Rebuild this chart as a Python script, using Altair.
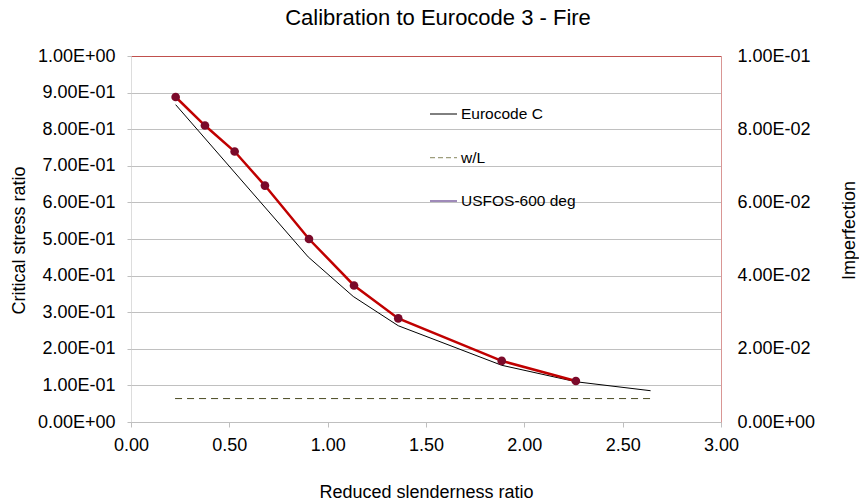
import altair as alt
import pandas as pd

# ---- data ----
usfos_x = [0.227, 0.376, 0.527, 0.681, 0.905, 1.134, 1.359, 1.885, 2.262]
usfos_y = [0.888, 0.810, 0.739, 0.646, 0.500, 0.373, 0.283, 0.167, 0.112]

euro_x = [0.227, 0.901, 1.130, 1.359, 1.885, 2.262, 2.642]
euro_y = [0.867, 0.451, 0.343, 0.263, 0.155, 0.110, 0.0855]

wl_x = [0.224, 2.642]
wl_y = [0.0064, 0.0064]

legend_labels = ["Eurocode C", "w/L", "USFOS-600 deg"]
legend_colors = ["#000000", "#9E9E7E", "#8064A2"]

x_ticks = [0, 0.5, 1.0, 1.5, 2.0, 2.5, 3.0]
left_ticks = [0, 0.1, 0.2, 0.3, 0.4, 0.5, 0.6, 0.7, 0.8, 0.9, 1.0]
right_ticks = [0, 0.02, 0.04, 0.06, 0.08, 0.1]

FONT = "Liberation Sans"
BORDER = "#C0504D"

usfos_df = pd.DataFrame({"x": usfos_x, "y": usfos_y})
euro_df = pd.DataFrame({"x": euro_x, "y": euro_y})
wl_df = pd.DataFrame({"x": wl_x, "y": wl_y})
legend_df = pd.DataFrame({"series": legend_labels})

exp_ = "floor(log(datum.value)/LN10 + 1e-9)"
excel_fmt = (
    "datum.value == 0 ? '0.00E+00' : "
    f"(format(datum.value / pow(10, {exp_}), '.2f') + 'E' + "
    f"({exp_} < 0 ? '-' : '+') + "
    f"(abs({exp_}) < 10 ? '0' : '') + abs({exp_}))"
)

x_scale = alt.Scale(domain=[0, 3], nice=False, zero=False)
y_left_scale = alt.Scale(domain=[0, 1], nice=False)
y_right_scale = alt.Scale(domain=[0, 0.1], nice=False)

x_axis = alt.Axis(
    values=x_ticks, format=".2f", title="Reduced slenderness ratio",
    grid=False, domainColor="#BFBFBF", tickColor="#BFBFBF", tickSize=5,
    labelFlush=False, labelOverlap=False,
    labelPadding=9, labelFontSize=18, labelColor="#000000", labelFont=FONT,
    titleFontSize=18, titleFontWeight="normal", titleFont=FONT, titleColor="#000000",
    titleX=295, titleY=75, titleBaseline="alphabetic", titleAnchor="start", titleAlign="center",
)
y_left_axis = alt.Axis(
    values=left_ticks, labelExpr=excel_fmt, title="Critical stress ratio",
    grid=True,
    gridColor={"condition": {"test": "datum.value > 0.99", "value": BORDER}, "value": "#C0C0C0"},
    domain=False, tickColor="#BFBFBF", tickSize=4,
    labelFlush=False, labelOverlap=False,
    labelPadding=12, labelFontSize=18, labelColor="#000000", labelFont=FONT,
    titleFontSize=18, titleFontWeight="normal", titleFont=FONT, titleColor="#000000",
    titleAngle=270, titleX=-107, titleY=184, titleBaseline="alphabetic", titleAlign="center",
)
y_right_axis = alt.Axis(
    values=right_ticks, labelExpr=excel_fmt, title="Imperfection", orient="right",
    grid=False, domain=True, domainColor="#D99694", ticks=False,
    labelFlush=False, labelOverlap=False,
    labelPadding=16, labelFontSize=18, labelColor="#000000", labelFont=FONT,
    titleFontSize=18, titleFontWeight="normal", titleFont=FONT, titleColor="#000000",
    titleAngle=270, titleX=133, titleY=174, titleBaseline="alphabetic", titleAlign="center",
)

X = alt.X("x:Q", scale=x_scale, axis=x_axis)
Y = alt.Y("y:Q", scale=y_left_scale, axis=y_left_axis)

euro = alt.Chart(euro_df).mark_line(color="#000000", strokeWidth=1).encode(x=X, y=Y)
usfos_line = alt.Chart(usfos_df).mark_line(color="#C00000", strokeWidth=2.5).encode(x=X, y=Y)
usfos_pts = alt.Chart(usfos_df).mark_point(
    filled=True, shape="circle", size=75, color="#7B0A2A", opacity=1
).encode(x=X, y=Y)

leg = alt.Legend(
    title=None, orient="none", legendX=298, legendY=44, symbolType="stroke",
    symbolSize=729, rowPadding=20.2, labelFontSize=15.5, labelFont=FONT,
    labelColor="#000000", labelOffset=3, padding=0, symbolOpacity=1,
)
legend_layer = alt.Chart(legend_df).mark_line().encode(
    x=alt.X("x0:Q", scale=x_scale, axis=x_axis),
    y=alt.Y("y0:Q", scale=y_left_scale, axis=y_left_axis),
    color=alt.Color("series:O", scale=alt.Scale(domain=legend_labels, range=legend_colors), legend=leg),
    strokeDash=alt.StrokeDash("series:O", scale=alt.Scale(domain=legend_labels, range=[[1, 0], [5, 3], [1, 0]]), legend=leg),
    strokeWidth=alt.StrokeWidth("series:O", scale=alt.Scale(domain=legend_labels, range=[1, 1.5, 2.5]), legend=leg),
).transform_calculate(x0="0", y0="0").transform_filter("false")

left = alt.layer(euro, usfos_line, usfos_pts, legend_layer)

right = alt.Chart(wl_df).mark_line(color="#4A4A22", strokeWidth=1, strokeDash=[7, 5]).encode(
    x=X, y=alt.Y("y:Q", scale=y_right_scale, axis=y_right_axis)
)

chart = alt.layer(left, right).resolve_scale(y="independent").properties(
    width=590, height=366,
    title=alt.TitleParams(
        "Calibration to Eurocode 3 - Fire", fontSize=22, fontWeight="normal",
        font=FONT, color="#000000", anchor="middle", dx=12, offset=17,
    ),
    autosize=alt.AutoSizeParams(type="none"),
    padding={"left": 131, "top": 56, "right": 138, "bottom": 79},
).configure_view(stroke="#D99694", strokeWidth=1).configure(background="white")

chart.save("out.html", embed_options={"renderer": "svg", "actions": False})
